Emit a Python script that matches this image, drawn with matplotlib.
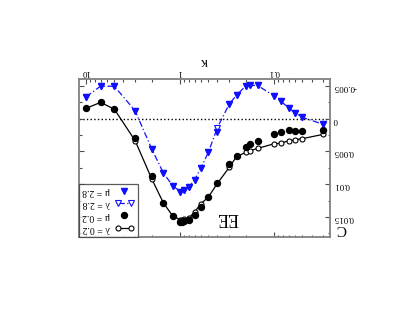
import matplotlib
matplotlib.use("Agg")
import matplotlib.pyplot as plt
from matplotlib.ticker import MultipleLocator, LogLocator, FuncFormatter, NullFormatter
from matplotlib.legend_handler import HandlerLine2D

plt.rcParams['font.family'] = ['Liberation Serif', 'DejaVu Serif']
plt.rcParams['axes.unicode_minus'] = False

# kappa values (x) for each series
kappa = [10, 7, 5, 3, 2, 1.5, 1.2, 1, 0.95, 0.9, 0.8, 0.7, 0.6, 0.5, 0.4,
         0.3, 0.25, 0.2, 0.18, 0.15, 0.1, 0.085, 0.07, 0.06, 0.05, 0.03]
kappa_b = [10, 7, 5, 3, 2, 1.5, 1.2, 1, 0.9, 0.8, 0.7, 0.6, 0.5, 0.4,
           0.3, 0.25, 0.2, 0.18, 0.15, 0.1, 0.085, 0.07, 0.06, 0.05, 0.03]

lam_02 = [-0.00157, -0.00248, -0.00146, 0.00336, 0.00918, 0.01287, 0.01480,
          0.01541, 0.01540, 0.01533, 0.01510, 0.01424, 0.01298, 0.01196,
          0.00986, 0.00743, 0.00576, 0.00515, 0.00489, 0.00454, 0.00383,
          0.00375, 0.00337, 0.00322, 0.00305, 0.00239]
mu_02 = [-0.00157, -0.00248, -0.00146, 0.00299, 0.00872, 0.01287, 0.01480,
         0.01582, 0.01576, 0.01567, 0.01541, 0.01465, 0.01348, 0.01196,
         0.00986, 0.00695, 0.00568, 0.00427, 0.00389, 0.00340, 0.00237,
         0.00201, 0.00173, 0.00184, 0.00188, 0.00173]
lam_28 = [-0.00333, -0.00495, -0.00495, -0.00120, 0.00462, 0.00831, 0.01020,
          0.01111, 0.01085, 0.01035, 0.00933, 0.00755, 0.00512, 0.00135,
          -0.00222, -0.00359, -0.00500, -0.00506, -0.00506, -0.00348,
          -0.00267, -0.00166, -0.00090, -0.00020, 0.00087]
mu_28 = [-0.00333, -0.00495, -0.00495, -0.00120, 0.00462, 0.00831, 0.01020,
         0.01111, 0.01085, 0.01035, 0.00933, 0.00755, 0.00512, 0.00199,
         -0.00222, -0.00359, -0.00500, -0.00506, -0.00506, -0.00348,
         -0.00267, -0.00166, -0.00090, -0.00020, 0.00087]

blue = '#1010ff'

fig = plt.figure(figsize=(4.09, 3.16), dpi=100)
ax = fig.add_axes([0.192, 0.251, 0.615, 0.498])

ax.axhline(0, color='k', ls=':', lw=1.0, zorder=1)

l1, = ax.plot(kappa, lam_02, '-', color='k', lw=0.9, marker='o', ms=3.6,
              mfc='white', mec='k', mew=0.8, label='λ = 0.2', zorder=3)
l2, = ax.plot(kappa, mu_02, 'o', color='k', ms=4.3, label='μ = 0.2', zorder=4)
l3, = ax.plot(kappa_b, lam_28, color=blue, lw=0.9, ls=(0, (5, 2, 1, 2)),
              marker='v', ms=4.0, mfc='white', mec=blue, mew=0.8,
              label='λ = 2.8', zorder=3)
l4, = ax.plot(kappa_b, mu_28, 'v', color=blue, ms=4.4, label='μ = 2.8', zorder=4)

ax.set_xscale('log')
ax.set_xlim(12, 0.0254)
ax.set_ylim(0.018, -0.006)

ax.xaxis.set_major_locator(LogLocator(base=10))
ax.xaxis.set_minor_locator(LogLocator(base=10, subs=range(2, 10)))
ax.xaxis.set_minor_formatter(NullFormatter())
ax.xaxis.set_major_formatter(FuncFormatter(lambda v, p: '%g' % v))
ax.yaxis.set_major_locator(MultipleLocator(0.005))
ax.yaxis.set_minor_locator(MultipleLocator(0.0025))
ax.yaxis.set_major_formatter(FuncFormatter(lambda v, p: '%g' % round(v, 4)))

ax.xaxis.tick_top()
ax.yaxis.tick_right()
ax.tick_params(which='both', direction='in', top=True, bottom=True,
               left=True, right=True, labeltop=True, labelbottom=False,
               labelleft=False, labelright=True, color='0.3',
               labelsize=6.5, pad=2.5, labelrotation=180)
ax.tick_params(which='major', length=3.6, width=0.8)
ax.tick_params(which='minor', length=1.8, width=0.8)
for s in ax.spines.values():
    s.set_color('0.5')
    s.set_linewidth(1.3)

ax.xaxis.set_label_position('top')
ax.set_xlabel('κ', rotation=180, fontsize=10, labelpad=2)
ax.text(1.045, 0.055, 'C', transform=ax.transAxes, rotation=180,
        ha='center', va='center', fontsize=11)
ax.text(0.594, 0.125, 'EE', transform=ax.transAxes, rotation=180,
        ha='center', va='center', fontsize=13)

leg = ax.legend(handles=[l4, l3, l2, l1], loc='lower left', markerfirst=False,
                numpoints=1, fontsize=7, frameon=True, fancybox=False,
                borderaxespad=0, handlelength=2.0, handletextpad=0.5,
                labelspacing=0.35, borderpad=0.35,
                handler_map={l1: HandlerLine2D(numpoints=2),
                             l3: HandlerLine2D(numpoints=2)})
leg.get_frame().set_edgecolor('0.2')
leg.get_frame().set_linewidth(0.9)
for t in leg.get_texts():
    t.set_rotation(180)

fig.savefig('out.png', dpi=100)
